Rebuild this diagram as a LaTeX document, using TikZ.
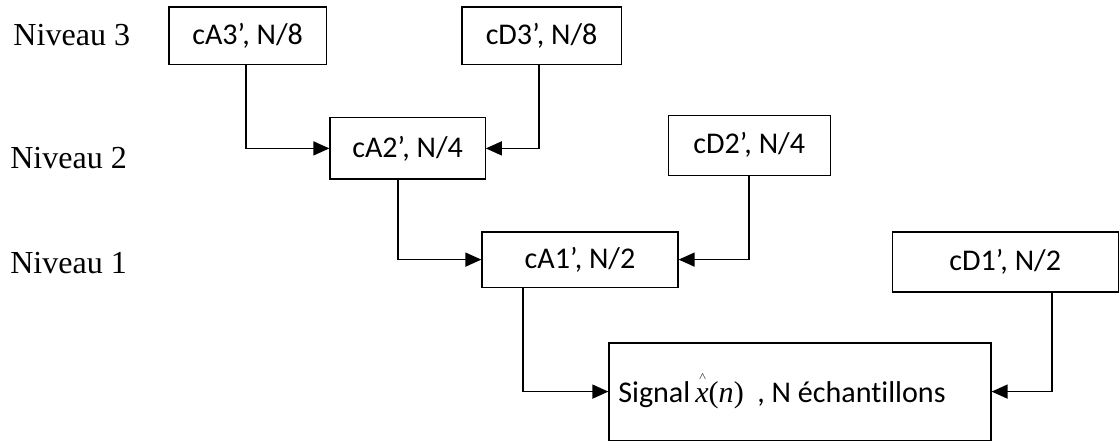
\documentclass[tikz,border=0pt]{standalone}
\usepackage{fontspec}
\setmainfont[Ligatures={NoCommon}]{Carlito}
\newfontfamily\tnr{Liberation Serif}
\usetikzlibrary{arrows.meta,calc}
\tikzset{
  coef/.style={
    draw=black,
    line width=0.9pt,
    minimum height=1.45cm,
    inner sep=2pt,
    align=center,
    font=\fontsize{21.4}{25}\selectfont
  },
  link/.style={-{Triangle[length=4mm,width=3.5mm]}, line width=1.1pt},
  level/.style={anchor=west, inner sep=0pt, font=\tnr\fontsize{22.8}{27}\selectfont}
}
\newcommand{\xhat}{\makebox[0pt][l]{\hspace{0.12em}\raisebox{0.78em}{\tnr\scriptsize$\wedge$}}{\tnr\itshape x}{\tnr(\textit{n})}}

\begin{document}
\begin{tikzpicture}

  \useasboundingbox (0,0) rectangle (27.975,-11.025);

  % -------------------------------------------------------------------
  % levels
  % -------------------------------------------------------------------
  \node[level] (lev3) at (0.33,-0.88) {Niveau 3};
  \node[level] (lev2) at (0.25,-3.95) {Niveau 2};
  \node[level] (lev1) at (0.25,-6.58) {Niveau 1};

  % -------------------------------------------------------------------
  % coefficients
  % -------------------------------------------------------------------
  \node[coef, minimum width=3.93cm, minimum height=1.43cm] (ca3) at (6.19,-0.89) {cA3’, N/8};
  \node[coef, minimum width=3.98cm, minimum height=1.43cm] (cd3) at (13.54,-0.89) {cD3’, N/8};
  \node[coef, minimum width=3.88cm, minimum height=1.53cm] (ca2) at (10.19,-3.71) {cA2’, N/4};
  \node[coef, minimum width=4.05cm, minimum height=1.50cm] (cd2) at (18.73,-3.63) {cD2’, N/4};
  \node[coef, minimum width=4.90cm, minimum height=1.38cm] (ca1) at (14.50,-6.49) {cA1’, N/2};
  \node[coef, minimum width=5.65cm, minimum height=1.50cm] (cd1) at (25.13,-6.55) {cD1’, N/2};
  \node[coef, minimum width=9.55cm, minimum height=2.43cm] (sig) at (20.00,-9.79) {Signal\,\xhat~~, N échantillons\hspace{1.2em}};

  % -------------------------------------------------------------------
  % connections
  % -------------------------------------------------------------------
  \draw[link] ([xshift=-0.04cm]ca3.south) |- (ca2.west);
  \draw[link] ([xshift=-0.06cm]cd3.south) |- (ca2.east);
  \draw[link] ([xshift=-0.24cm]ca2.south) |- (ca1.west);
  \draw[link] (cd2.south) |- (ca1.east);
  \draw[link] ([xshift=-1.42cm]ca1.south) |- (sig.west);
  \draw[link] ([xshift=1.17cm]cd1.south) |- (sig.east);

\end{tikzpicture}
\end{document}
